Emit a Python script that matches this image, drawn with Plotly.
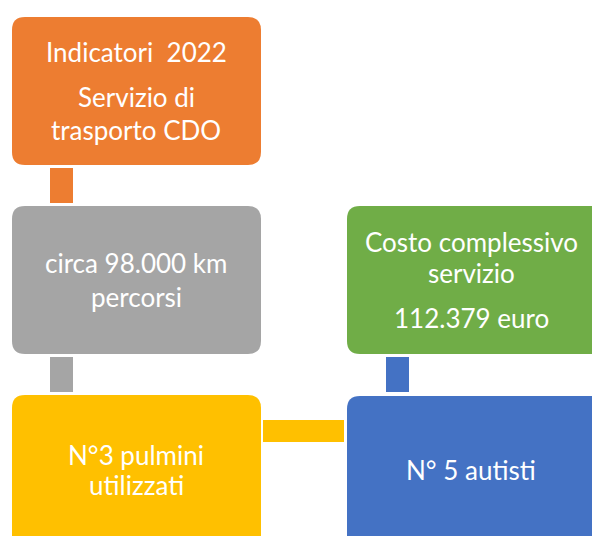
import plotly.graph_objects as go

# Diagram content
box_names = ["Indicatori", "Km", "Pulmini", "Costo", "Autisti"]
box_colors = ["#ED7D31", "#A5A5A5", "#FFC000", "#70AD47", "#4472C4"]
box_lines = [
    ["Indicatori  2022", "Servizio di", "trasporto CDO"],
    ["circa 98.000 km", "percorsi"],
    ["N°3 pulmini", "utilizzati"],
    ["Costo complessivo", "servizio", "112.379 euro"],
    ["N° 5 autisti"],
]

# layout geometry (screen pixels)
boxes = [
    (12, 17, 261, 165),
    (12, 206, 261, 354),
    (12, 395, 261, 560),
    (347, 206, 605, 354),
    (347, 396, 605, 560),
]
line_centers_x = [136, 136, 136, 471, 471]
line_y = [
    [52, 97, 130],
    [263, 297],
    [455, 485],
    [242, 273, 318],
    [470],
]
connectors = [
    (50, 168, 73, 203, "#ED7D31"),
    (50, 357, 73, 392, "#A5A5A5"),
    (263, 420, 344, 442, "#FFC000"),
    (386, 357, 409, 392, "#4472C4"),
]


def rounded(x0, y0, x1, y1, r):
    return (f"M{x0+r},{y0} L{x1-r},{y0} Q{x1},{y0} {x1},{y0+r} "
            f"L{x1},{y1-r} Q{x1},{y1} {x1-r},{y1} L{x0+r},{y1} "
            f"Q{x0},{y1} {x0},{y1-r} L{x0},{y0+r} Q{x0},{y0} {x0+r},{y0} Z")


fig = go.Figure()
fig.add_trace(go.Scatter(x=[0, 592], y=[0, 536], mode="markers",
                         marker=dict(opacity=0), hoverinfo="skip", showlegend=False))

shapes = []
for (x0, y0, x1, y1, c) in connectors:
    shapes.append(dict(type="rect", xref="x", yref="y", x0=x0, y0=y0, x1=x1, y1=y1,
                       fillcolor=c, line=dict(width=0), layer="below"))
for (x0, y0, x1, y1), c in zip(boxes, box_colors):
    shapes.append(dict(type="path", xref="x", yref="y", path=rounded(x0, y0, x1, y1, 13),
                       fillcolor=c, line=dict(width=0), layer="below"))

annotations = []
for cx, lines, ys in zip(line_centers_x, box_lines, line_y):
    for t, yy in zip(lines, ys):
        annotations.append(dict(x=cx, y=yy, xref="x", yref="y", text=t, showarrow=False,
                                font=dict(family="Lato, Open Sans, sans-serif", size=26,
                                          color="white"),
                                xanchor="center", yanchor="middle"))

fig.update_layout(
    width=592, height=536,
    margin=dict(l=0, r=0, t=0, b=0),
    paper_bgcolor="white", plot_bgcolor="white",
    xaxis=dict(range=[0, 592], visible=False, fixedrange=True),
    yaxis=dict(range=[536, 0], visible=False, fixedrange=True),
    shapes=shapes, annotations=annotations,
)
fig.write_html(
    "out.html",
    config={"displayModeBar": False, "staticPlot": True},
    post_script="document.body.style.margin='0';document.body.style.overflow='hidden';",
)
